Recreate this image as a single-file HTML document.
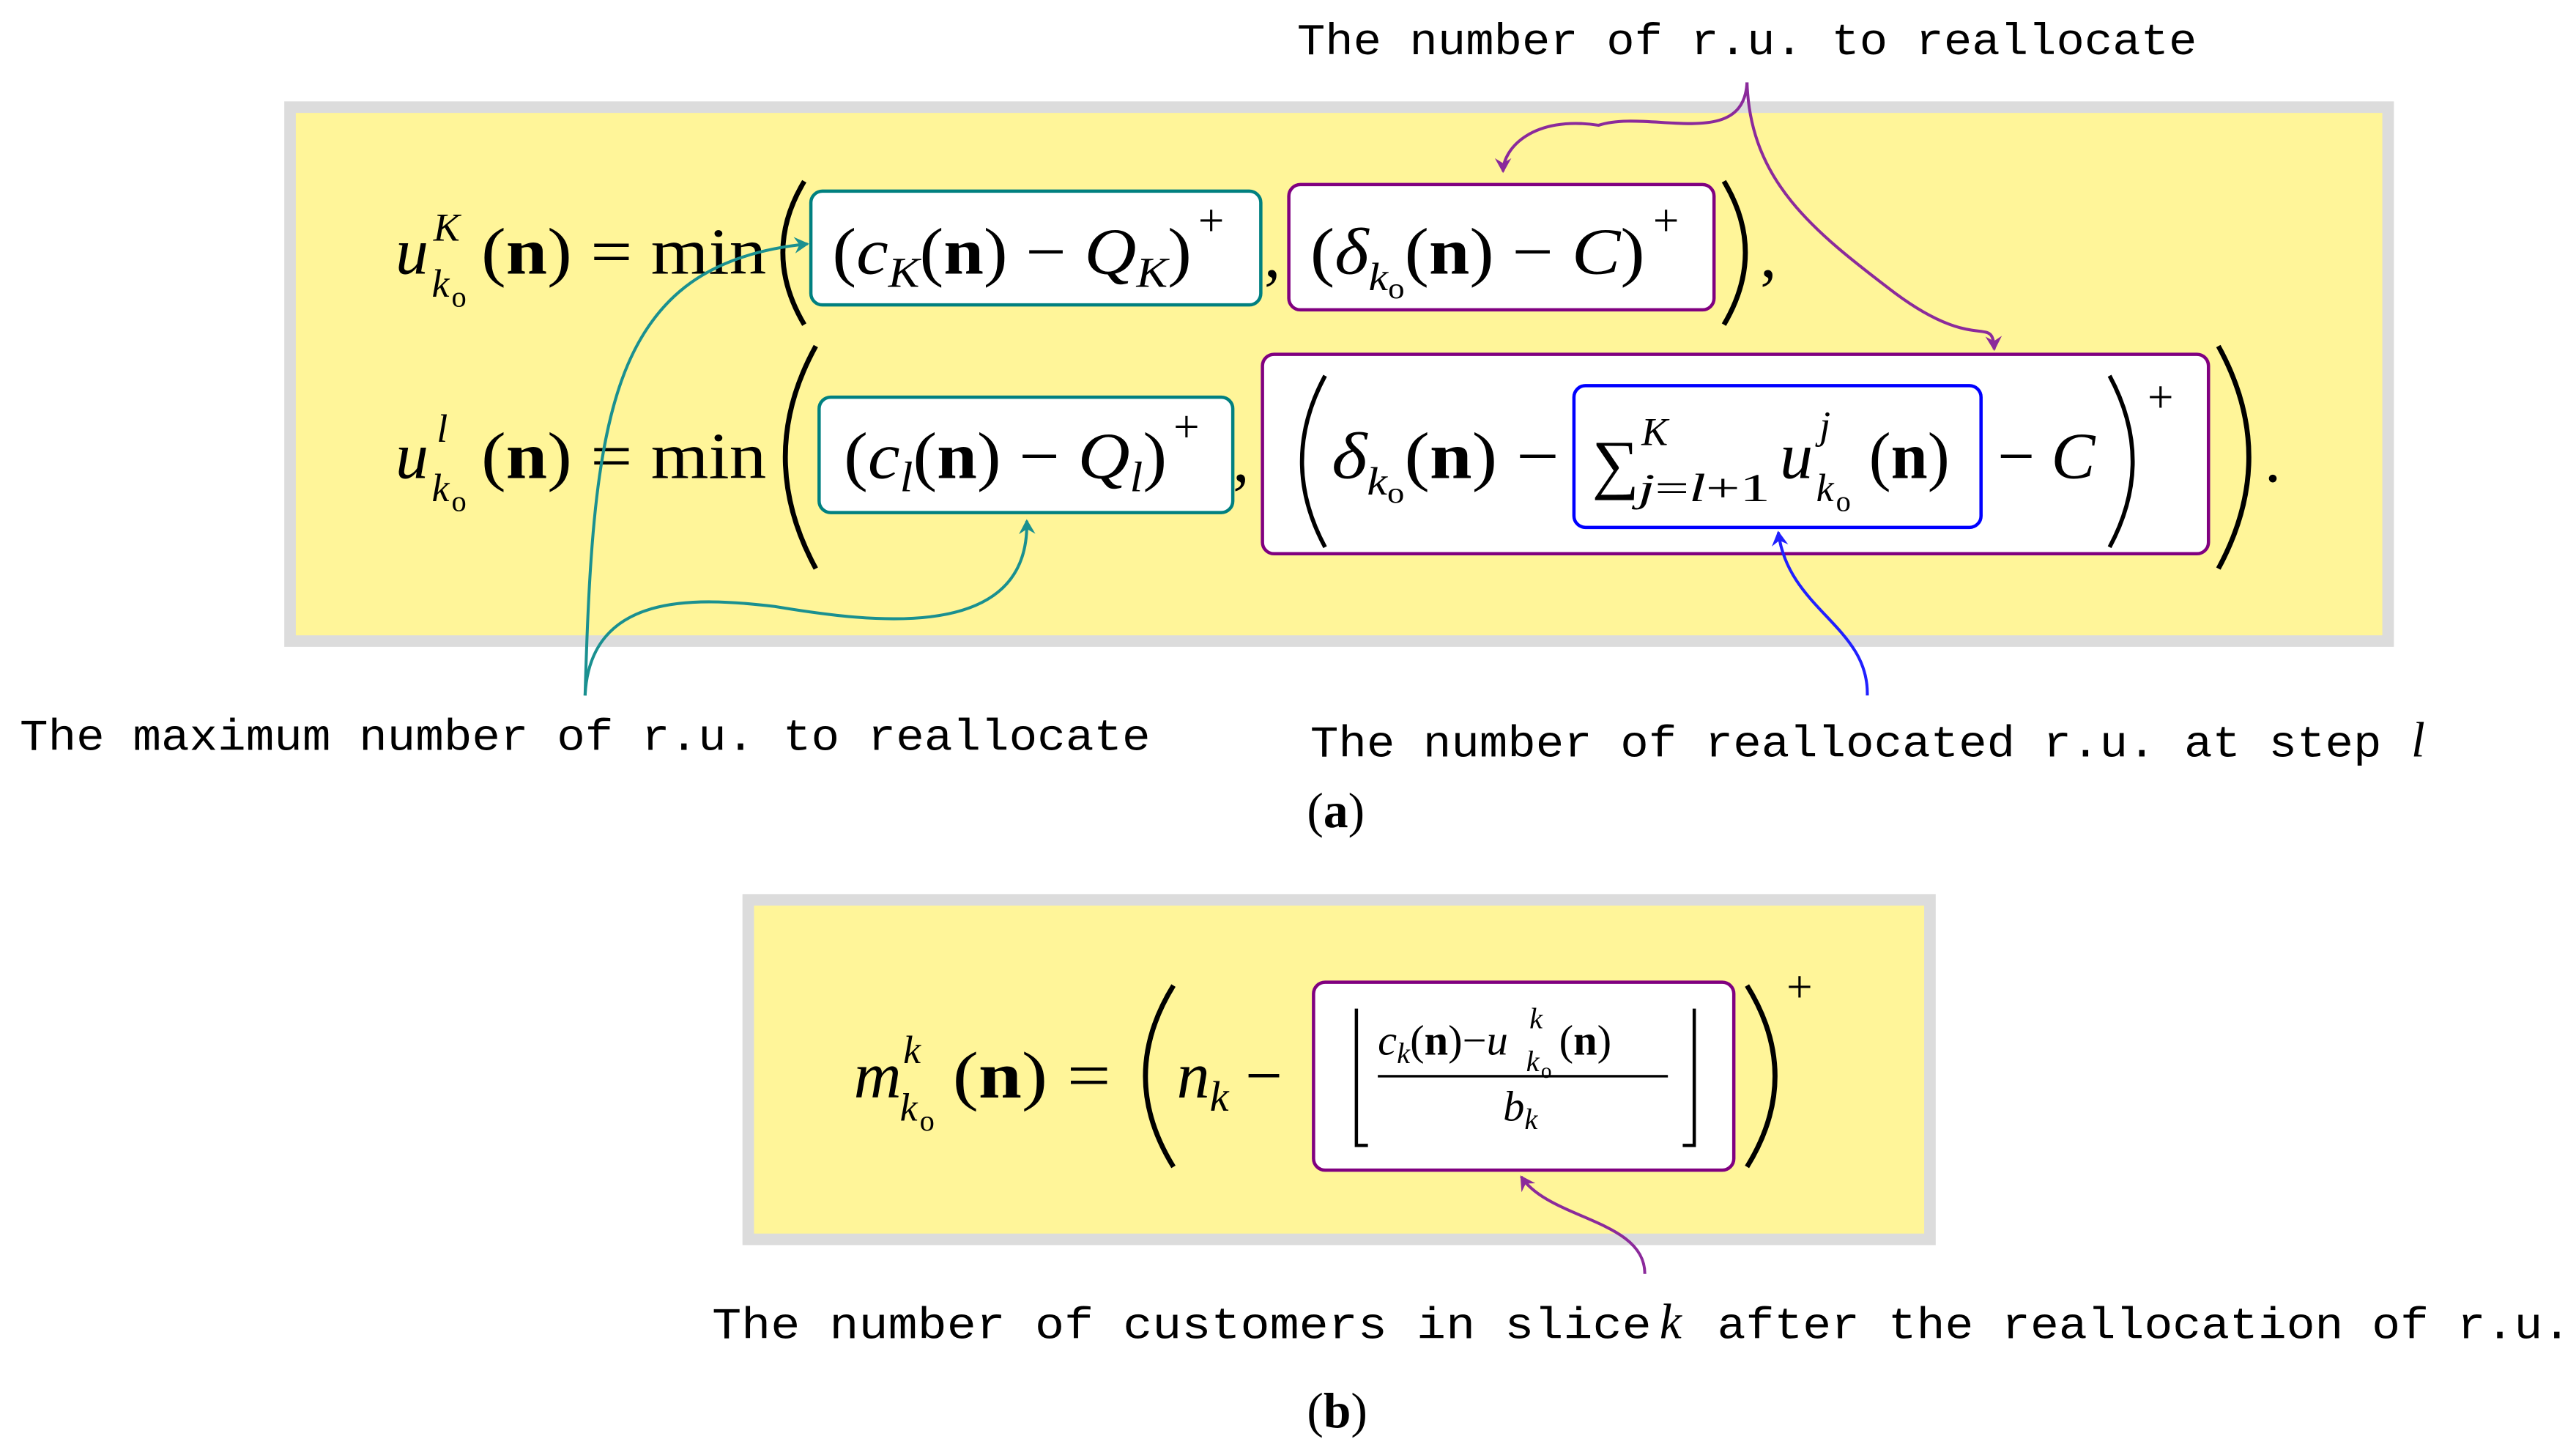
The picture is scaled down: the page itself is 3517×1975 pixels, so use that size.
<!DOCTYPE html>
<html><head><meta charset="utf-8"><style>
html,body{margin:0;padding:0;background:#fff;}
svg{display:block;}
.m{font-family:"Liberation Mono",monospace;font-size:27px;fill:#000;}
.s{font-family:"Liberation Serif",serif;fill:#000;}
.i{font-style:italic;}
.b{font-weight:bold;}
</style></head><body>
<svg width="3517" height="1975" viewBox="0 0 1563 878" preserveAspectRatio="none" xmlns="http://www.w3.org/2000/svg" font-size="40">
<defs>
<marker id="ap" markerWidth="10" markerHeight="10" refX="8" refY="5" orient="auto" markerUnits="userSpaceOnUse"><path d="M0,0 L9,5 L0,10 L3,5z" fill="#8b2a9b"/></marker>
<marker id="at" markerWidth="10" markerHeight="10" refX="8" refY="5" orient="auto" markerUnits="userSpaceOnUse"><path d="M0,0 L9,5 L0,10 L3,5z" fill="#1a9090"/></marker>
<marker id="ab" markerWidth="10" markerHeight="10" refX="8" refY="5" orient="auto" markerUnits="userSpaceOnUse"><path d="M0,0 L9,5 L0,10 L3,5z" fill="#2020ff"/></marker>
</defs>
<rect x="176" y="65" width="1273" height="324" fill="#fff599" stroke="#dcdcdc" stroke-width="7"/>
<rect x="454" y="546" width="717" height="206" fill="#fff599" stroke="#dcdcdc" stroke-width="7"/>

<rect x="492" y="116" width="273" height="69" rx="7" fill="#fff" stroke="#008080" stroke-width="2"/>
<rect x="782" y="112" width="258" height="76" rx="7" fill="#fff" stroke="#800080" stroke-width="2"/>
<rect x="497" y="241" width="251" height="70" rx="7" fill="#fff" stroke="#008080" stroke-width="2"/>
<rect x="766" y="215" width="574" height="121" rx="7" fill="#fff" stroke="#800080" stroke-width="2"/>
<rect x="955" y="234" width="247" height="86" rx="7" fill="#fff" stroke="#0000ff" stroke-width="2"/>
<rect x="797" y="596" width="255" height="114" rx="7" fill="#fff" stroke="#800080" stroke-width="2"/>

<text class="m" x="787" y="33" textLength="546" lengthAdjust="spacingAndGlyphs">The number of r.u. to reallocate</text>

<!-- row 1 -->
<text class="s i" x="240" y="166">u</text>
<text class="s i" x="263" y="146" font-size="24">K</text>
<text class="s i" x="262" y="180" font-size="24">k</text><text class="s" x="274" y="186" font-size="18">o</text>
<text class="s" x="292" y="166" textLength="173" lengthAdjust="spacingAndGlyphs">(<tspan class="b">n</tspan>) = min</text>
<path d="M488,110 Q462,153 488,197" fill="none" stroke="#000" stroke-width="3"/>
<text class="s" x="505" y="166" textLength="218" lengthAdjust="spacingAndGlyphs">(<tspan class="i">c</tspan><tspan class="i" font-size="26" dy="8">K</tspan><tspan dy="-8">(</tspan><tspan class="b">n</tspan>) − <tspan class="i">Q</tspan><tspan class="i" font-size="26" dy="8">K</tspan><tspan dy="-8">)</tspan></text>
<text class="s" x="727" y="143" font-size="28">+</text>
<text class="s" x="767" y="168">,</text>
<text class="s" x="795" y="166" textLength="203" lengthAdjust="spacingAndGlyphs">(<tspan class="i">δ</tspan><tspan class="i" font-size="24" dy="10">k</tspan><tspan font-size="18" dy="5">o</tspan><tspan dy="-15">(</tspan><tspan class="b">n</tspan>) − <tspan class="i">C</tspan>)</text>
<text class="s" x="1003" y="143" font-size="28">+</text>
<path d="M1046,110 Q1072,153 1046,197" fill="none" stroke="#000" stroke-width="3"/>
<text class="s" x="1068" y="168">,</text>

<!-- row 2 -->
<text class="s i" x="240" y="290">u</text>
<text class="s i" x="265" y="268" font-size="24">l</text>
<text class="s i" x="262" y="304" font-size="24">k</text><text class="s" x="274" y="310" font-size="18">o</text>
<text class="s" x="292" y="290" textLength="173" lengthAdjust="spacingAndGlyphs">(<tspan class="b">n</tspan>) = min</text>
<path d="M495,210 Q458,277 495,345" fill="none" stroke="#000" stroke-width="3"/>
<text class="s" x="512" y="290" textLength="196" lengthAdjust="spacingAndGlyphs">(<tspan class="i">c</tspan><tspan class="i" font-size="26" dy="8">l</tspan><tspan dy="-8">(</tspan><tspan class="b">n</tspan>) − <tspan class="i">Q</tspan><tspan class="i" font-size="26" dy="8">l</tspan><tspan dy="-8">)</tspan></text>
<text class="s" x="712" y="268" font-size="28">+</text>
<text class="s" x="748" y="292">,</text>
<path d="M804,228 Q776,280 804,332" fill="none" stroke="#000" stroke-width="2.5"/>
<text class="s" x="808" y="290" textLength="138" lengthAdjust="spacingAndGlyphs"><tspan class="i">δ</tspan><tspan class="i" font-size="24" dy="10">k</tspan><tspan font-size="18" dy="5">o</tspan><tspan dy="-15">(</tspan><tspan class="b">n</tspan>) −</text>
<text class="s" x="966" y="295">∑</text>
<text class="s i" x="996" y="270" font-size="24">K</text>
<text class="s" x="994" y="304" font-size="24" textLength="80" lengthAdjust="spacingAndGlyphs"><tspan class="i">j</tspan>=<tspan class="i">l</tspan>+1</text>
<text class="s i" x="1080" y="290">u</text>
<text class="s i" x="1104" y="266" font-size="24">j</text>
<text class="s i" x="1102" y="304" font-size="24">k</text><text class="s" x="1114" y="310" font-size="18">o</text>
<text class="s" x="1134" y="290">(<tspan class="b">n</tspan>)</text>
<text class="s" x="1212" y="290">− <tspan class="i">C</tspan></text>
<path d="M1280,228 Q1308,280 1280,332" fill="none" stroke="#000" stroke-width="2.5"/>
<text class="s" x="1303" y="250" font-size="28">+</text>
<path d="M1346,210 Q1383,277 1346,345" fill="none" stroke="#000" stroke-width="3"/>
<text class="s" x="1374" y="292">.</text>

<!-- arrows a -->
<path d="M1060,50 C1058,92 1000,66 970,76 C930,70 912,90 912,104" fill="none" stroke="#8b2a9b" stroke-width="1.8" marker-end="url(#ap)"/>
<path d="M1060,50 C1062,110 1100,140 1150,178 C1200,215 1209,190 1210,212" fill="none" stroke="#8b2a9b" stroke-width="1.8" marker-end="url(#ap)"/>
<path d="M355,422 C360,250 370,160 490,148" fill="none" stroke="#1a9090" stroke-width="1.8" marker-end="url(#at)"/>
<path d="M355,422 C358,360 420,362 470,368 C530,378 625,390 623,316" fill="none" stroke="#1a9090" stroke-width="1.8" marker-end="url(#at)"/>
<path d="M1133,422 C1134,380 1085,370 1079,323" fill="none" stroke="#2020ff" stroke-width="1.8" marker-end="url(#ab)"/>

<text class="m" x="12" y="455" textLength="686" lengthAdjust="spacingAndGlyphs">The maximum number of r.u. to reallocate</text>
<text class="m" x="795" y="459" textLength="650" lengthAdjust="spacingAndGlyphs">The number of reallocated r.u. at step</text>
<text class="s i" x="1463" y="459" font-size="30">l</text>
<text class="s" x="793" y="502" font-size="30">(<tspan class="b">a</tspan>)</text>

<!-- formula b -->
<text class="s i" x="518" y="666">m</text>
<text class="s i" x="548" y="645" font-size="24">k</text>
<text class="s i" x="546" y="680" font-size="24">k</text><text class="s" x="558" y="686" font-size="18">o</text>
<text class="s" x="578" y="666" textLength="96" lengthAdjust="spacingAndGlyphs">(<tspan class="b">n</tspan>) =</text>
<path d="M712,598 Q678,653 712,708" fill="none" stroke="#000" stroke-width="3"/>
<text class="s" x="714" y="666"><tspan class="i">n</tspan><tspan class="i" font-size="26" dy="8">k</tspan><tspan dy="-8"> −</tspan></text>
<path d="M823,612 V695 H830" fill="none" stroke="#000" stroke-width="2"/>
<path d="M1028,612 V695 H1021" fill="none" stroke="#000" stroke-width="2"/>
<text class="s" x="836" y="640" font-size="26"><tspan class="i">c</tspan><tspan class="i" font-size="18" dy="5">k</tspan><tspan dy="-5">(</tspan><tspan class="b">n</tspan>)−<tspan class="i">u</tspan></text>
<text class="s i" x="928" y="624" font-size="18">k</text>
<text class="s i" x="926" y="650" font-size="18">k</text><text class="s" x="935" y="654" font-size="13">o</text>
<text class="s" x="946" y="640" font-size="26">(<tspan class="b">n</tspan>)</text>
<line x1="836" y1="653" x2="1012" y2="653" stroke="#000" stroke-width="1.5"/>
<text class="s i" x="912" y="680" font-size="26">b<tspan font-size="18" dy="5">k</tspan></text>
<path d="M1060,598 Q1094,653 1060,708" fill="none" stroke="#000" stroke-width="3"/>
<text class="s" x="1084" y="608" font-size="28">+</text>
<path d="M998,773 C998,740 940,740 923,714" fill="none" stroke="#8b2a9b" stroke-width="1.8" marker-end="url(#ap)"/>

<text class="m" x="432" y="812" textLength="570" lengthAdjust="spacingAndGlyphs">The number of customers in slice</text>
<text class="s i" x="1007" y="812" font-size="30">k</text>
<text class="m" x="1042" y="812" textLength="518" lengthAdjust="spacingAndGlyphs">after the reallocation of r.u.</text>
<text class="s" x="793" y="866" font-size="30">(<tspan class="b">b</tspan>)</text>
</svg>
</body></html>
